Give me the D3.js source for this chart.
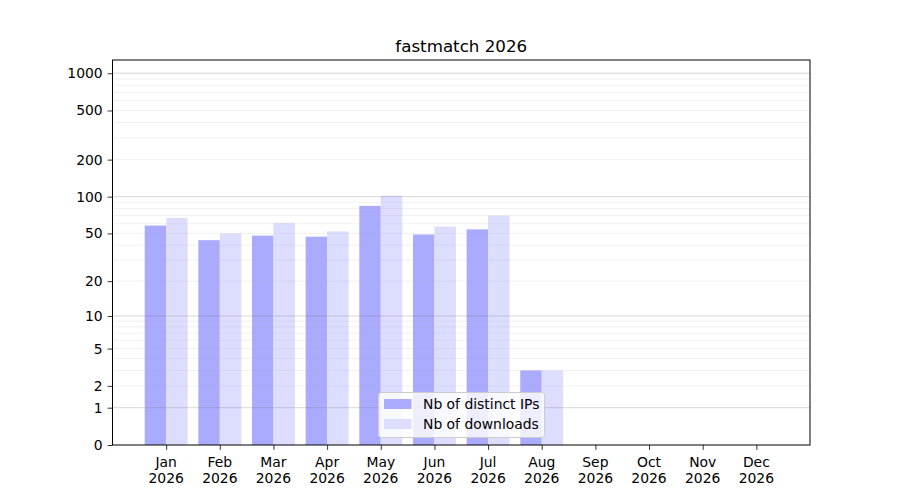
<!DOCTYPE html>
<html>
<head>
<meta charset="utf-8">
<script src="https://cdn.jsdelivr.net/npm/d3@7"></script>
<style>
  body { margin: 0; background: #fff; }
  svg { font-family: "DejaVu Sans", sans-serif; }
</style>
</head>
<body>
<svg id="chart" width="900" height="500"></svg>
<script>
const months = ["Jan","Feb","Mar","Apr","May","Jun","Jul","Aug","Sep","Oct","Nov","Dec"];
const year = "2026";
const distinctIPs = [58, 44, 48, 47, 84, 49, 54, 3, 0, 0, 0, 0];
const downloads = [67, 50, 61, 52, 102, 57, 70, 3, 0, 0, 0, 0];
const yTicks = [0, 1, 2, 5, 10, 20, 50, 100, 200, 500, 1000];
const majorGrid = [1, 10, 100, 1000];
const minorGrid = [2,3,4,5,6,7,8,9,20,30,40,50,60,70,80,90,200,300,400,500,600,700,800,900];
const seriesNames = ["Nb of distinct IPs", "Nb of downloads"];

const width = 900;
const height = 500;
const margin = {top: 60, right: 90, bottom: 55, left: 112.5};
const colors = ["#aaaaff", "#ddddff"];

const svg = d3.select("#chart");

// month index scale, one slot of padding on both sides
const x = d3.scaleLinear()
    .domain([-1, 12])
    .range([margin.left, width - margin.right]);

const y = d3.scaleSymlog()
    .constant(1)
    .domain([0, 1279])
    .range([height - margin.bottom, margin.top]);

const barW = x(0.4) - x(0);

// bars
svg.append("g").selectAll("rect")
    .data(distinctIPs)
    .enter()
    .append("rect")
    .attr("x", (d, i) => x(i - 0.4))
    .attr("y", d => y(d))
    .attr("width", barW)
    .attr("height", d => y(0) - y(d))
    .attr("fill", colors[0]);

svg.append("g").selectAll("rect")
    .data(downloads)
    .enter()
    .append("rect")
    .attr("x", (d, i) => x(i))
    .attr("y", d => y(d))
    .attr("width", barW)
    .attr("height", d => y(0) - y(d))
    .attr("fill", colors[1]);

// grid lines drawn over the bars, like the original
svg.append("g").selectAll("line")
    .data(minorGrid)
    .enter()
    .append("line")
    .attr("x1", margin.left)
    .attr("x2", width - margin.right)
    .attr("y1", d => y(d))
    .attr("y2", d => y(d))
    .attr("stroke", "#b0b0b0")
    .attr("stroke-opacity", 0.22)
    .attr("stroke-width", 0.8);

svg.append("g").selectAll("line")
    .data(majorGrid)
    .enter()
    .append("line")
    .attr("x1", margin.left)
    .attr("x2", width - margin.right)
    .attr("y1", d => y(d))
    .attr("y2", d => y(d))
    .attr("stroke", "#808080")
    .attr("stroke-opacity", 0.4)
    .attr("stroke-width", 0.8);

// axes
const yAxis = d3.axisLeft(y)
    .tickValues(yTicks)
    .tickFormat(d3.format("d"))
    .tickSize(4.9)
    .tickPadding(4.9);

const xAxis = d3.axisBottom(x)
    .tickValues(d3.range(12))
    .tickFormat("")
    .tickSize(4.9);

const gy = svg.append("g")
    .attr("transform", `translate(${margin.left},0)`)
    .call(yAxis);

const gx = svg.append("g")
    .attr("transform", `translate(0,${height - margin.bottom})`)
    .call(xAxis);

[gx, gy].forEach(g => {
    g.select(".domain").remove();
    g.selectAll(".tick line").attr("stroke", "#000").attr("stroke-width", 0.8);
    g.selectAll(".tick text").attr("font-size", "13.9px").attr("fill", "#000")
        .attr("font-family", "DejaVu Sans");
});

// two-line month labels
const xl = svg.append("g");
months.forEach((m, i) => {
    const t = xl.append("text")
        .attr("x", x(i))
        .attr("text-anchor", "middle")
        .attr("font-size", "13.9px")
        .attr("fill", "#000");
    t.append("tspan").attr("x", x(i)).attr("y", 466.5).text(m);
    t.append("tspan").attr("x", x(i)).attr("y", 482.5).text(year);
});

// frame
svg.append("rect")
    .attr("x", margin.left)
    .attr("y", margin.top)
    .attr("width", width - margin.right - margin.left)
    .attr("height", height - margin.bottom - margin.top)
    .attr("fill", "none")
    .attr("stroke", "#000")
    .attr("stroke-width", 1);

// title
svg.append("text")
    .attr("x", (margin.left + width - margin.right) / 2)
    .attr("y", 51.7)
    .attr("text-anchor", "middle")
    .attr("font-size", "16.7px")
    .text(`fastmatch ${year}`);

// legend, lower center
const legend = svg.append("g")
    .attr("transform", "translate(378.5,392.5)");

legend.append("rect")
    .attr("width", 166)
    .attr("height", 45)
    .attr("rx", 3)
    .attr("fill", "#fff")
    .attr("fill-opacity", 0.8)
    .attr("stroke", "#cccccc")
    .attr("stroke-width", 1);

seriesNames.forEach((name, i) => {
    legend.append("rect")
        .attr("x", 5.5)
        .attr("y", 6.5 + i * 20)
        .attr("width", 27.5)
        .attr("height", 10)
        .attr("fill", colors[i]);
    legend.append("text")
        .attr("x", 44.5)
        .attr("y", 16 + i * 20)
        .attr("font-size", "13.9px")
        .text(name);
});
</script>
</body>
</html>
